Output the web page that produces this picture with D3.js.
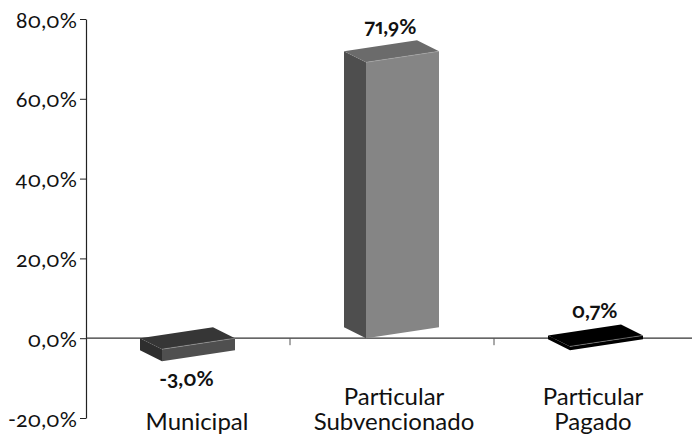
<!DOCTYPE html>
<html>
<head>
<meta charset="utf-8">
<script src="https://cdn.jsdelivr.net/npm/d3@7"></script>
<style>
  html, body { margin: 0; padding: 0; background: #fff; }
  svg { display: block; }
  text { font-family: Lato, "Open Sans", sans-serif; fill: #111; font-feature-settings: "onum", "pnum"; }
</style>
</head>
<body>
<script>
var categories = ['Municipal', 'Particular Subvencionado', 'Particular Pagado'];
var values = [-3.0, 71.9, 0.7];
var valueLabels = ['-3,0%', '71,9%', '0,7%'];
var yTicks = [-20, 0, 20, 40, 60, 80];

// shades per bar: front, top, side
var barShades = [
  ['#4f4f4f', '#363636', '#2e2e2e'],
  ['#858585', '#6b6b6b', '#4e4e4e'],
  ['#000000', '#000000', '#000000']
];
// the middle bar sits higher than the others in the original
var baseLift = [0, 11, 0];
var labelLines = [['Municipal'], ['Particular', 'Subvencionado'], ['Particular', 'Pagado']];
var labelShift = [9, 2, -3];

var w = 692, h = 437;
var axisX = 86;

var FRONT_W = 73, SIDE_W = 22, DEPTH_DY = 11, SKEW = 11, RIGHT_OFF = 47;

var svg = d3.select('body').append('svg')
  .attr('width', w)
  .attr('height', h);

var y = d3.scaleLinear().domain([-20, 80]).range([418, 19]);
var x = d3.scaleBand().domain(categories).range([axisX, 698]);

// axes
var yAxis = svg.append('g')
  .attr('transform', 'translate(' + axisX + ',0)')
  .call(d3.axisLeft(y).tickValues(yTicks).tickSize(6).tickSizeOuter(0)
    .tickFormat(function(d) { return d.toFixed(1).replace('.', ',') + '%'; }));
yAxis.select('.domain').attr('stroke', '#222').attr('stroke-width', 1.2);
yAxis.selectAll('.tick line').attr('stroke', '#222');
yAxis.selectAll('.tick text')
  .attr('x', -9)
  .attr('dy', '8')
  .style('font-size', '21.5px');

svg.append('line')
  .attr('x1', axisX).attr('x2', w)
  .attr('y1', y(0)).attr('y2', y(0))
  .attr('stroke', '#333').attr('stroke-width', 1.2);

svg.append('g').selectAll('line')
    .data(categories.slice(1))
  .enter().append('line')
    .attr('x1', function(d) { return x(d); })
    .attr('x2', function(d) { return x(d); })
    .attr('y1', y(0))
    .attr('y2', y(0) + 7)
    .attr('stroke', '#555');

// 3d bars
var bars = svg.append('g').selectAll('g')
    .data(categories)
  .enter().append('g');

function pts(list) {
  return list.map(function(p) { return p.join(','); }).join(' ');
}

bars.each(function(d, i) {
  var g = d3.select(this);
  var fr = x(d) + x.bandwidth() / 2 + RIGHT_OFF; // front right edge
  var fl = fr - FRONT_W;
  var bl = fl - SIDE_W;
  var tr = Math.min(y(values[i]), y(0)) - baseLift[i] * (values[i] > 10 ? 0 : 1);
  var br = Math.max(y(values[i]), y(0)) - baseLift[i] + (values[i] > 0 && values[i] < 10 ? 1 : 0);

  g.append('polygon') // side
    .attr('points', pts([[bl, tr], [fl, tr + DEPTH_DY], [fl, br + SKEW], [bl, br]]))
    .attr('fill', barShades[i][2]);
  g.append('polygon') // top
    .attr('points', pts([[bl, tr], [bl + FRONT_W, tr - SKEW], [fr, tr], [fl, tr + DEPTH_DY]]))
    .attr('fill', barShades[i][1]);
  g.append('polygon') // front
    .attr('points', pts([[fl, tr + SKEW], [fr, tr], [fr, br], [fl, br + SKEW]]))
    .attr('fill', barShades[i][0]);
  g.append('line') // thin light edge
    .attr('x1', fl).attr('y1', tr + SKEW)
    .attr('x2', fr).attr('y2', tr)
    .attr('stroke', '#aaa').attr('stroke-width', 0.5);

  var labelY = values[i] < 0 ? br + SKEW + 25 : tr - SKEW - 6;
  g.append('text')
    .attr('x', (fl + fr) / 2 - 12)
    .attr('y', labelY)
    .attr('text-anchor', 'middle')
    .style('font-size', '21px')
    .style('font-weight', 'bold')
    .text(valueLabels[i]);
});

// category labels
svg.append('g').selectAll('text')
    .data(categories)
  .enter().append('text')
    .attr('text-anchor', 'middle')
    .style('font-size', '24px')
    .each(function(d, i) {
      var lines = labelLines[i];
      var t = d3.select(this);
      lines.forEach(function(line, j) {
        t.append('tspan')
          .attr('x', x(d) + x.bandwidth() / 2 + labelShift[i])
          .attr('y', 430 - (lines.length - 1 - j) * 25)
          .text(line);
      });
    });
</script>
</body>
</html>
